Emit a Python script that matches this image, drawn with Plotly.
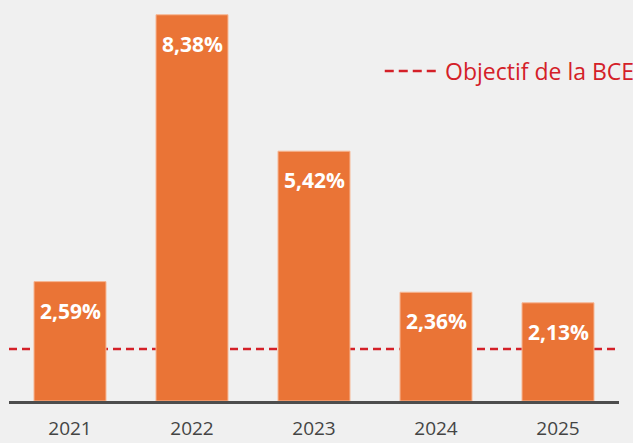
import plotly.graph_objects as go

years = ["2021", "2022", "2023", "2024", "2025"]
inflation = [2.59, 8.38, 5.42, 2.36, 2.13]
value_labels = ["2,59%", "8,38%", "5,42%", "2,36%", "2,13%"]
target_level = 1.13
target_name = "Objectif de la BCE"

BAR = "#EA7436"
RED = "#D42028"
BG = "#F0F0F0"
FONT = "Open Sans"

fig = go.Figure()
fig.add_trace(go.Bar(
    x=years, y=inflation,
    marker=dict(color=BAR, line=dict(color="#F7B795", width=1)),
    showlegend=False, hoverinfo="skip",
))
# target line, drawn behind the bars
fig.add_shape(type="line", xref="paper", yref="y", x0=0, x1=1,
              y0=target_level, y1=target_level, layer="below",
              line=dict(color=RED, width=2.5, dash="8px,5px"))
# legend (custom, so the dashed sample is as long as the original)
fig.add_shape(type="line", xref="paper", yref="paper", x0=0.616, x1=0.705,
              y0=0.823, y1=0.823,
              line=dict(color=RED, width=2.5, dash="9px,5px"))
fig.add_annotation(xref="paper", yref="paper", x=0.712, y=0.823,
                   xanchor="left", yanchor="middle", showarrow=False,
                   text=target_name,
                   font=dict(family=FONT, size=23, color=RED))
for i, (v, t) in enumerate(zip(inflation, value_labels)):
    fig.add_annotation(x=i, y=v, text="<b>%s</b>" % t, showarrow=False,
                       yanchor="top", yshift=-13,
                       font=dict(family=FONT, size=21, color="white"))

fig.update_layout(
    width=633, height=443,
    paper_bgcolor=BG, plot_bgcolor=BG,
    margin=dict(l=9, r=14, t=0, b=42, autoexpand=False),
    bargap=0.41,
    showlegend=False,
    xaxis=dict(type="category", categoryorder="array", categoryarray=years,
               range=[-0.5, len(years) - 0.5],
               showline=True, linecolor="#4D4D4D", linewidth=3,
               ticks="outside", ticklen=8, tickcolor="rgba(0,0,0,0)",
               tickfont=dict(family=FONT, size=19, color="#444444"),
               showgrid=False, fixedrange=True),
    yaxis=dict(range=[0, 8.7], visible=False, showgrid=False, zeroline=False),
)

fig.write_html("out.html", config={"displayModeBar": False},
               post_script="document.body.style.margin='0';document.body.style.background='%s';" % BG)
